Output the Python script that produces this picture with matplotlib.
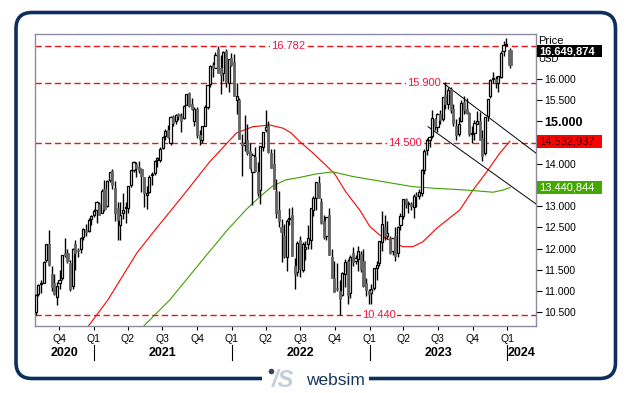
import numpy as np
import pandas as pd
import matplotlib
matplotlib.use("Agg")
import matplotlib.pyplot as plt
import matplotlib.dates as mdates
from matplotlib.patches import FancyBboxPatch, Rectangle, Circle
from matplotlib.transforms import blended_transform_factory
from matplotlib.ticker import FuncFormatter

plt.rcParams['font.family'] = ['Liberation Sans', 'DejaVu Sans']

#--- weekly candles (index points)
week_dates = list(pd.date_range('2020-07-31', '2023-12-29', freq='W-FRI')) + [pd.Timestamp('2024-01-08')]

opens = [
    # 2020
    10500, 10920, 11160, 11200, 11720, 12110, 11400, 11200, 10860, 11200, 11310, 11900,
    11900, 11650, 11120, 12100, 11950, 11980, 12280, 12450, 12420, 12700, 12800,
    # 2021
    12900, 13050, 12850, 13400, 13000, 13620, 13830, 13430, 12950, 12560, 12850, 12950, 12950,
    13500, 13860, 14000, 13920, 13880, 13680, 13260, 13330, 13730, 13780, 14080, 14100, 14370,
    14660, 14790, 14500, 15100, 15000, 15170, 15130, 15080, 15390, 15680, 15400, 15000, 15300,
    14690, 14560, 14900, 15350, 15880, 16320, 16270, 16700, 16250, 16150, 16660, 15900, 16500,
    # 2022
    16400, 15500, 15500, 14500, 14450, 14550, 14300, 13800, 14150, 13800, 13380, 14400, 14800,
    14880, 14250, 14000, 13350, 12900, 12500, 12300, 11800, 12700, 12800, 11600, 11450, 12200,
    11500, 12000, 12100, 12200, 12900, 13200, 13540, 13100, 12650, 12300, 12800, 11800, 11300,
    11050, 11000, 10900, 11400, 11700, 10950, 11900, 11700, 11750, 11880, 11700, 11200, 11000,
    # 2023
    10960, 11080, 11540, 11650, 12150, 12500, 12300, 12250, 11950, 12300, 11900, 12550, 12780,
    13180, 13050, 13050, 12980, 13250, 13250, 13300, 13860, 14330, 14550, 14650, 15050, 14870,
    15170, 15050, 15620, 15400, 15760, 15300, 14900, 14700, 15000, 15450, 15300, 15200, 14700,
    14720, 14950, 15010, 14620, 14250, 15120, 15600, 15990, 15990, 15900, 16050, 16650, 16800,
    # 2024
    16680,
]
highs = [
    10930, 11170, 11270, 11700, 12110, 12440, 11600, 11410, 11220, 11490, 11850, 12250,
    11980, 11730, 12020, 12200, 12010, 12280, 12480, 12570, 12720, 12800, 12930,
    13130, 13100, 13400, 13620, 13620, 13800, 13880, 13600, 13100, 13100, 13300, 13100, 13480,
    13850, 14060, 14050, 14070, 13900, 13700, 13470, 13730, 13800, 14080, 14160, 14400, 14660,
    14810, 14920, 15120, 15140, 15170, 15200, 15200, 15380, 15650, 15700, 15550, 15350, 15350,
    14800, 14900, 15380, 15870, 16320, 16400, 16640, 16782, 16560, 16650, 16700, 16470, 16620,
    16600, 15900, 15550, 14700, 15140, 14950, 14500, 14250, 14400, 14050, 14420, 14750, 15260,
    15000, 14350, 14350, 13650, 13370, 12700, 12580, 12690, 12950, 12970, 11770, 12170, 12300,
    12150, 12180, 12550, 12950, 13250, 13580, 13720, 13200, 12800, 12750, 12950, 12000, 11700,
    11650, 11250, 11440, 11760, 11760, 11840, 12040, 11850, 12050, 11950, 12000, 11300, 11050,
    11170, 11550, 11700, 12170, 12880, 12800, 12650, 12300, 12250, 12500, 12530, 12850, 13180,
    13200, 13120, 13100, 13280, 13330, 13400, 13870, 14340, 14600, 14650, 15280, 15080, 15200,
    15270, 15580, 15932, 15800, 15800, 15400, 15050, 15100, 15500, 15590, 15550, 15220, 14880,
    15040, 15240, 15220, 14800, 15100, 15530, 15990, 16170, 16080, 16080, 16650, 16900, 16970,
    16730,
]
lows = [
    10440, 10880, 10950, 11180, 11690, 11590, 10990, 10900, 10680, 11050, 11250, 11800,
    11650, 10990, 11050, 11500, 11800, 11900, 12200, 12300, 12380, 12560, 12740,
    12610, 12800, 12840, 12890, 12970, 13580, 13400, 12660, 12200, 12200, 12700, 12600, 12850,
    13450, 13800, 13700, 13780, 13340, 12980, 12940, 13300, 13500, 13740, 13930, 14050, 14340,
    14560, 14620, 14450, 14880, 14930, 15030, 14760, 15060, 15380, 15350, 15280, 14900, 14600,
    14440, 14500, 14890, 15300, 15800, 16050, 16250, 16130, 15650, 15960, 15800, 15700, 16300,
    15600, 15170, 14590, 13720, 14300, 14200, 13880, 13020, 13800, 13250, 13050, 14300, 14750,
    14250, 13900, 13400, 12730, 12520, 11680, 11770, 11470, 12550, 11820, 11040, 11350, 11320,
    11450, 11730, 12000, 11980, 12760, 12900, 13200, 12580, 12220, 12200, 11850, 11300, 10970,
    11000, 10440, 10880, 11100, 10700, 10830, 11600, 11640, 11480, 11450, 11100, 10880, 10700,
    10700, 11030, 11250, 11600, 11950, 12200, 12230, 11880, 11850, 11700, 11800, 12450, 12700,
    12950, 12850, 12900, 12720, 12980, 13180, 13250, 13750, 14200, 14400, 14620, 14800, 14760,
    14940, 15000, 15300, 15300, 15200, 14900, 14560, 14650, 14980, 15180, 15180, 14650, 14480,
    14550, 14950, 14550, 14060, 14200, 15000, 15550, 15900, 15780, 15700, 16030, 16550, 16780,
    16260,
]
closes = [
    10905, 11140, 11190, 11690, 12100, 11620, 11090, 10940, 11120, 11260, 11840, 11850,
    11700, 11050, 12000, 11900, 11940, 12260, 12460, 12380, 12680, 12760, 12890,
    13100, 12800, 13370, 12930, 13600, 13800, 13500, 12850, 12670, 12800, 12900, 12980, 13480,
    13850, 14040, 13900, 13860, 13720, 13310, 13300, 13690, 13770, 14070, 14140, 14360, 14640,
    14770, 14640, 15100, 14960, 15160, 15130, 15000, 15370, 15650, 15360, 15300, 15300, 14690,
    14580, 14900, 15330, 15850, 16300, 16250, 16570, 16150, 16090, 16630, 15930, 16460, 16320,
    15600, 15610, 14590, 14440, 14500, 14250, 13890, 14200, 13840, 13300, 14420, 14740, 14860,
    14290, 13900, 13400, 12850, 12650, 12390, 11830, 12660, 12720, 11830, 11400, 12140, 11530,
    12120, 12040, 12250, 12950, 13200, 13560, 13200, 12600, 12270, 12750, 11850, 11310, 10970,
    11040, 10820, 11430, 11680, 10900, 11800, 11680, 11780, 11940, 11520, 11120, 11020, 10940,
    11040, 11540, 11620, 12170, 12570, 12300, 12360, 11890, 12250, 11830, 12520, 12770, 13180,
    13060, 13080, 13000, 13250, 13240, 13340, 13850, 14300, 14550, 14630, 15080, 14890, 15180,
    15040, 15570, 15400, 15750, 15270, 14970, 14690, 14940, 15430, 15270, 15200, 14700, 14720,
    14960, 15000, 14570, 14180, 15100, 15530, 15980, 16000, 15930, 16080, 16620, 16800, 16830,
    16330,
]

#--- moving averages, sampled from the chart
red_ma_dates = ['2020-12-08', '2021-02-07', '2021-04-25', '2021-06-12', '2021-08-25', '2021-11-03',
                '2022-01-14', '2022-02-26', '2022-04-12', '2022-05-17', '2022-06-07', '2022-07-01',
                '2022-08-04', '2022-09-07', '2022-10-01', '2022-10-30', '2022-12-06', '2023-01-02',
                '2023-01-28', '2023-03-04', '2023-03-30', '2023-04-26', '2023-05-22', '2023-06-28',
                '2023-08-28', '2023-10-02', '2023-11-05', '2023-12-12', '2024-01-08']
red_ma_values = [10060, 10790, 11900, 12440, 13250, 14040, 14730, 14875, 14915, 14840, 14730, 14520,
                 14255, 13970, 13760, 13340, 12910, 12520, 12320, 12160, 12045, 12045, 12160, 12480,
                 12910, 13380, 13780, 14250, 14533]

green_ma_dates = ['2021-04-27', '2021-07-21', '2021-10-09', '2021-12-22', '2022-01-14', '2022-02-07',
                  '2022-03-16', '2022-04-20', '2022-05-24', '2022-07-01', '2022-08-12', '2022-09-26',
                  '2022-11-18', '2023-01-10', '2023-03-04', '2023-04-26', '2023-06-28', '2023-08-09',
                  '2023-10-01', '2023-11-24', '2023-12-20', '2024-01-08']
green_ma_values = [10030, 10790, 11660, 12455, 12675, 12910, 13220, 13480, 13620, 13680, 13760, 13810,
                   13700, 13620, 13540, 13460, 13420, 13400, 13370, 13330, 13380, 13441]

#--- descending channel
channel_upper = [('2023-07-16', 15899), ('2024-03-19', 14238)]
channel_lower = [('2023-06-05', 14875), ('2024-03-19', 13040)]

#--- horizontal levels and where their labels sit
levels = [16782, 15900, 14500, 10440]
level_label_dates = ['2022-05-30', '2023-05-24', '2023-04-06', '2023-01-27']

last_price = 16649.874
last_red = 14532.937
last_green = 13440.844

y_ticks = list(range(10500, 16001, 500))
year_list = [2020, 2021, 2022, 2023, 2024]

navy = '#0e2f5d'

fig = plt.figure(figsize=(6.31, 3.93), dpi=100)
ax = fig.add_axes([35 / 631, 67 / 393, 501 / 631, 292 / 393])

x = mdates.date2num(week_dates)
o = np.array(opens, float)
h = np.array(highs, float)
l = np.array(lows, float)
c = np.array(closes, float)
up = c >= o

# MAs under the candles
ax.plot(pd.to_datetime(red_ma_dates), red_ma_values, color='#ff0000', lw=0.8, zorder=2)
ax.plot(pd.to_datetime(green_ma_dates), green_ma_values, color='#3f9e00', lw=0.8, zorder=2)

# levels
for lv in levels:
    ax.axhline(lv, color='#e8151b', lw=1.0, ls=(0, (4.5, 2.5)), zorder=1)
for lv, d in zip(levels, level_label_dates):
    ax.text(pd.Timestamp(d), lv, f"{lv:,}".replace(',', '.'), color='#f0143c', fontsize=8,
            ha='center', va='center', zorder=4,
            bbox=dict(boxstyle='square,pad=0.1', fc='white', ec='none'))

# channel
for seg in (channel_upper, channel_lower):
    ax.plot(pd.to_datetime([p[0] for p in seg]), [p[1] for p in seg], color='black', lw=0.7, zorder=3)

# candles
ax.vlines(x, l, h, color='black', lw=1.0, zorder=5)
body_w = np.full(len(x), 5.6)
body_w[-1] = 12
bottoms = np.minimum(o, c)
heights = np.maximum(np.abs(c - o), 25)
ax.bar(x[up], heights[up], width=body_w[up], bottom=bottoms[up], color='white',
       edgecolor='black', linewidth=0.9, zorder=6)
ax.bar(x[~up], heights[~up], width=body_w[~up], bottom=bottoms[~up], color='#656565',
       edgecolor='#656565', linewidth=0.6, zorder=6)

ax.set_xlim(pd.Timestamp('2020-07-29'), pd.Timestamp('2024-03-17'))
ax.set_ylim(10175, 17061)

for s in ax.spines.values():
    s.set_color('#8c8c9e')
    s.set_linewidth(1.0)

# x axis: quarters
ax.xaxis.set_major_locator(mdates.MonthLocator(bymonth=[1, 4, 7, 10]))
ax.xaxis.set_major_formatter(FuncFormatter(lambda v, pos: 'Q%d' % ((mdates.num2date(v).month - 1) // 3 + 1)))
ax.tick_params(axis='x', direction='out', length=3, pad=3, labelsize=7.5, color='black')

# y axis on the right
ax.yaxis.tick_right()
ax.set_yticks(y_ticks)
hidden = {13500, 14500, 16500}
ax.set_yticklabels(['' if v in hidden else f"{v:,}".replace(',', '.') for v in y_ticks])
ax.tick_params(axis='y', direction='out', length=4, pad=2, labelsize=7.5, color='black')
for lab in ax.get_yticklabels():
    if lab.get_text() == '15.000':
        lab.set_fontweight('bold')
        lab.set_fontsize(9)

# years below the quarters
bx = blended_transform_factory(ax.transData, ax.transAxes)
x0, x1 = ax.get_xlim()
for yr in year_list:
    a = max(mdates.date2num(pd.Timestamp(f'{yr}-01-01')), x0)
    b = min(mdates.date2num(pd.Timestamp(f'{yr + 1}-01-01')), x1)
    ax.text((a + b) / 2, -0.093, str(yr), transform=bx, ha='center', va='center',
            fontsize=9, fontweight='bold')
    if yr > year_list[0]:
        ax.plot([a, a], [-0.066, -0.118], transform=bx, color='black', lw=0.8, clip_on=False)

# right side value boxes
by = blended_transform_factory(ax.transAxes, ax.transData)
ax.text(1.004, 16896, 'Price', transform=by, fontsize=8, ha='left', va='center', clip_on=False)
ax.text(1.004, 16470, 'USD', transform=by, fontsize=7, ha='left', va='center', clip_on=False)
boxes = [(last_price, 'black', 'white', 'bold', 283), (last_red, '#ff0000', '#2a0000', 'normal', 307),
         (last_green, '#44a800', 'white', 'normal', 307)]
for val, fc, tc, fw, bh in boxes:
    ax.add_patch(Rectangle((1.002, val - bh / 2), 0.13, bh, transform=by, fc=fc, ec='none',
                           clip_on=False, zorder=9))
    txt = f"{val:,.3f}".replace(',', ' ').replace('.', ',').replace(' ', '.')
    ax.text(1.006, val, txt, transform=by, color=tc, fontsize=8, fontweight=fw,
            ha='left', va='center', clip_on=False, zorder=10)

# outer frame with the logo in the bottom edge
frame = FancyBboxPatch((0.16, 0.145), 5.995, 3.66, boxstyle='round,pad=0,rounding_size=0.16',
                       transform=fig.dpi_scale_trans, fill=False, ec=navy, lw=2.6)
fig.patches.append(frame)
fig.patches.append(Rectangle((2.62, 0.08), 1.07, 0.12, transform=fig.dpi_scale_trans,
                             fc='white', ec='none'))
fig.patches.append(Circle((2.715, 0.215), 0.028, transform=fig.dpi_scale_trans,
                          fc='#2e4468', ec='none'))
fig.text(2.72, 0.125, '/S', transform=fig.dpi_scale_trans, color='#c3cddb', fontsize=17,
         fontweight='bold', style='italic', ha='left', va='center')
fig.text(3.06, 0.125, 'websim', transform=fig.dpi_scale_trans, color='#16365f', fontsize=12.5,
         ha='left', va='center')

fig.savefig('out.png', dpi=100)
